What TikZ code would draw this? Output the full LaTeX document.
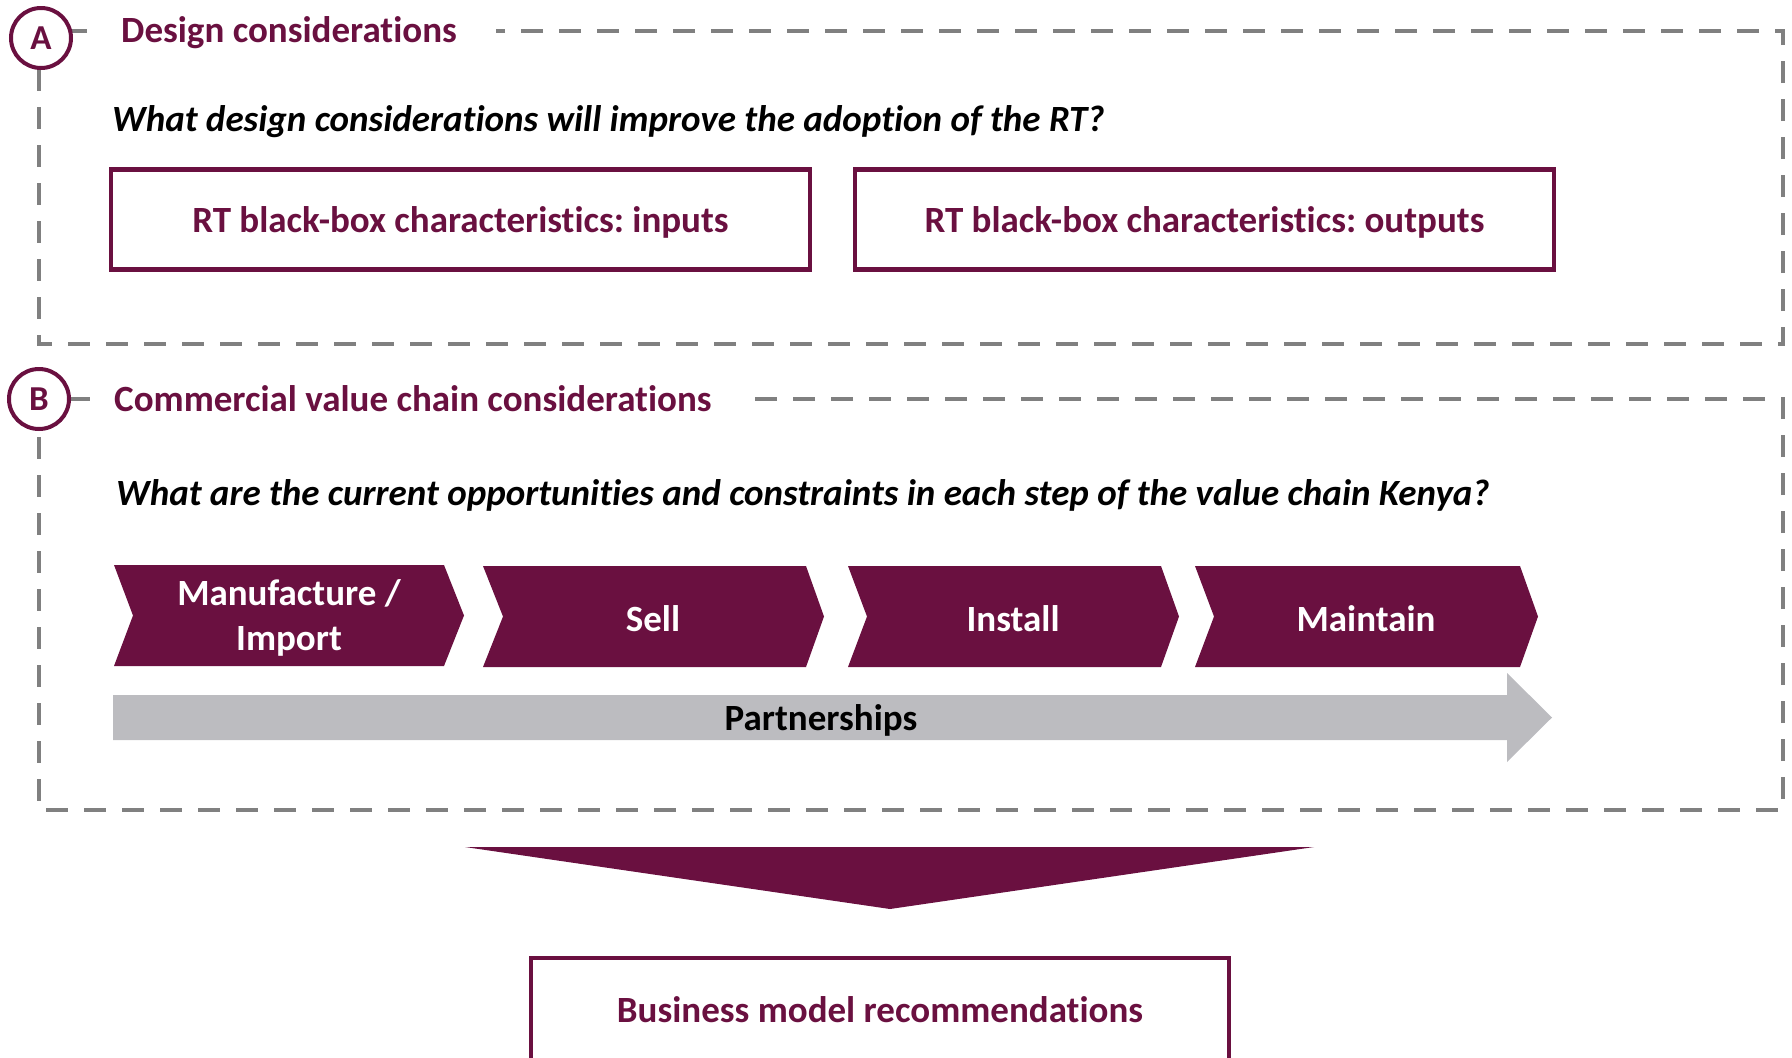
\documentclass[tikz,border=0pt]{standalone}
\usepackage{fontspec}
\setmainfont[Ligatures=NoCommon]{Carlito}
\definecolor{maroon}{HTML}{6A1040}
\definecolor{dashgray}{HTML}{808080}
\definecolor{arrowgray}{HTML}{BCBCC0}
\tikzset{
  dashbox/.style={draw=dashgray, line width=4pt, dash pattern=on 22pt off 16pt},
  circ/.style={circle, draw=maroon, line width=4pt, fill=white, minimum size=60pt, inner sep=0pt,
    text=maroon, font=\fontsize{35}{40}\selectfont\bfseries},
  sectitle/.style={anchor=west, inner sep=0pt, text=maroon,
    font=\fontsize{37}{44}\selectfont\bfseries},
  question/.style={anchor=west, inner sep=0pt, text=black,
    font=\fontsize{37}{44}\selectfont\bfseries\itshape},
  outbox/.style={draw=maroon, line width=4.5pt, minimum width=699pt, minimum height=100pt,
    text height=34pt, text depth=9pt,
    text=maroon, font=\fontsize{37}{44}\selectfont\bfseries},
  boxline/.style={draw=maroon, line width=4.5pt},
  chevtext/.style={text=white, align=center, font=\fontsize{37}{45}\selectfont\bfseries},
  chevfill/.style={fill=maroon},
  plain/.style={text=black, font=\fontsize{37}{44}\selectfont\bfseries},
  boxtext/.style={text=maroon, font=\fontsize{37}{44}\selectfont\bfseries}
}
\begin{document}
\frenchspacing
\begin{tikzpicture}[x=1pt,y=-1pt]
\useasboundingbox (0,0) rectangle (1792,1058);
% Section A
\draw[dashbox] (39,31) rectangle (1783,344);
\fill[white] (93,10) rectangle (496,52);
\node[circ] (cA) at (41,38) {A};
\node[sectitle] (tA) at (121,33) {Design considerations};
\node[question] (qA) at (112,122) {What design considerations will improve the adoption of the RT?};
\node[outbox] (in) at (460.5,219.5) {RT black-box characteristics: inputs};
\node[outbox] (out) at (1204.5,219.5) {RT black-box characteristics: outputs};
% Section B
\draw[dashbox] (39,399) rectangle (1783,810);
\fill[white] (90,378) rectangle (741,420);
\node[circ] (cB) at (39,399) {B};
\node[sectitle] (tB) at (114,399) {Commercial value chain considerations};
\node[question] (qB) at (116,495) {What are the current opportunities and constraints in each step of the value chain Kenya?};
% chevrons
\fill[chevfill] (114,565) -- (444,565) -- (464,615.5) -- (444,666) -- (114,666) -- (133,615.5) -- cycle;
\fill[chevfill] (483,566) -- (806,566) -- (824,616.5) -- (806,667) -- (483,667) -- (503,616.5) -- cycle;
\fill[chevfill] (848,566) -- (1161,566) -- (1179,616.5) -- (1161,667) -- (848,667) -- (867,616.5) -- cycle;
\fill[chevfill] (1195,566) -- (1520,566) -- (1538,616.5) -- (1520,667) -- (1195,667) -- (1214,616.5) -- cycle;
\node[chevtext] (c1) at (289,618) {Manufacture /\\Import};
\node[chevtext] (c2) at (653,619) {Sell};
\node[chevtext] (c3) at (1013,619) {Install};
\node[chevtext] (c4) at (1366,619) {Maintain};
% partnerships arrow
\fill[arrowgray] (113,695) -- (1507,695) -- (1507,673) -- (1552,717.5) -- (1507,762) -- (1507,740) -- (113,740) -- cycle;
\node[plain] (p) at (821,720) {Partnerships};
% down arrow
\fill[maroon] (465,847) -- (1314,847) -- (890,909) -- cycle;
% bottom box
\draw[boxline] (531,1062) -- (531,958) -- (1229,958) -- (1229,1062);
\node[boxtext] (bm) at (880,1010) {Business model recommendations};
\end{tikzpicture}
\end{document}
